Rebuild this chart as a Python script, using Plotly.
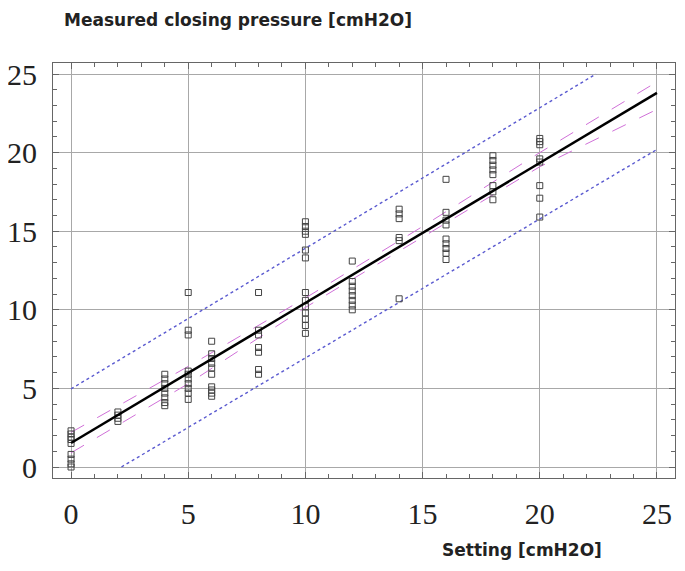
import plotly.graph_objects as go

# ---- data ----
settings = [0, 2, 4, 5, 6, 8, 10, 12, 14, 16, 18, 20]
measured = {
    0: [2.3, 2.1, 1.9, 1.75, 1.5, 0.8, 0.5, 0.2, 0.0],
    2: [3.5, 3.3, 3.1, 2.9],
    4: [5.9, 5.6, 5.3, 5.0, 4.7, 4.4, 4.1, 3.9],
    5: [11.1, 8.7, 8.4, 6.1, 5.9, 5.6, 5.3, 5.0, 4.7, 4.3],
    6: [8.0, 7.2, 6.9, 6.6, 6.3, 5.9, 5.1, 4.9, 4.7, 4.5],
    8: [11.1, 8.7, 8.4, 7.6, 7.3, 6.2, 5.9],
    10: [15.6, 15.3, 15.0, 14.8, 13.8, 13.3, 11.1, 10.6, 10.2, 9.8, 9.4, 9.0, 8.5],
    12: [13.1, 11.8, 11.5, 11.2, 10.9, 10.6, 10.3, 10.0],
    14: [16.4, 16.1, 15.8, 14.6, 14.4, 10.7],
    16: [18.3, 16.2, 15.7, 15.4, 14.5, 14.2, 13.9, 13.6, 13.2],
    18: [19.8, 19.5, 19.2, 18.9, 18.6, 17.9, 17.5, 17.0],
    20: [20.9, 20.7, 20.5, 19.6, 19.4, 17.9, 17.1, 15.9],
}

fit_x = [0, 25]
fit_y = [1.53, 23.8]

band_x = [0, 5, 10, 15, 20, 25]
conf_upper = [2.2, 6.4, 10.75, 15.3, 20.0, 24.5]
conf_lower = [0.9, 5.3, 10.15, 14.6, 19.1, 22.75]

pred_upper_x = [0, 22.4]
pred_upper_y = [4.97, 25.0]
pred_lower_x = [2.15, 25]
pred_lower_y = [0.0, 20.2]

x_ticks = [0, 5, 10, 15, 20, 25]
y_ticks = [0, 5, 10, 15, 20, 25]

y_title = "Measured closing pressure [cmH2O]"
x_title = "Setting [cmH2O]"

# ---- build ----
px_, py_ = [], []
for s in settings:
    for v in measured[s]:
        px_.append(s)
        py_.append(v)

fig = go.Figure()
fig.add_trace(go.Scatter(x=pred_upper_x, y=pred_upper_y, mode="lines",
                         line=dict(color="#5a5ad0", width=1.4, dash="dot"), hoverinfo="skip"))
fig.add_trace(go.Scatter(x=pred_lower_x, y=pred_lower_y, mode="lines",
                         line=dict(color="#5a5ad0", width=1.4, dash="dot"), hoverinfo="skip"))
fig.add_trace(go.Scatter(x=band_x, y=conf_upper, mode="lines",
                         line=dict(color="#d070d8", width=1, dash="longdash"), hoverinfo="skip"))
fig.add_trace(go.Scatter(x=band_x, y=conf_lower, mode="lines",
                         line=dict(color="#d070d8", width=1, dash="longdash"), hoverinfo="skip"))
fig.add_trace(go.Scatter(x=px_, y=py_, mode="markers",
                         marker=dict(symbol="square-open", size=6, color="#444444",
                                     line=dict(width=1, color="#444444"))))
fig.add_trace(go.Scatter(x=fit_x, y=fit_y, mode="lines",
                         line=dict(color="black", width=2.5)))

axis_common = dict(
    showgrid=True, gridcolor="#a8a8a8", gridwidth=1,
    zeroline=False, showline=True, linecolor="#666666", linewidth=1,
    mirror="ticks", ticks="inside", ticklen=6, tickcolor="#666666",
    minor=dict(dtick=1, ticks="inside", ticklen=4, tickcolor="#666666", showgrid=False),
    tickfont=dict(family="Liberation Serif", size=30, color="#222222"),
    automargin=False,
)

fig.update_xaxes(range=[-0.77, 25.77], tickvals=x_ticks, ticktext=[str(t) for t in x_ticks],
                 ticklabelstandoff=9, **axis_common)
fig.update_yaxes(range=[-0.7, 25.7], tickvals=y_ticks, ticktext=[str(t) for t in y_ticks],
                 ticklabelstandoff=9, **axis_common)

fig.add_annotation(text=y_title, xref="paper", yref="paper", x=0.0145, y=1.104,
                   xanchor="left", yanchor="middle", showarrow=False,
                   font=dict(family="DejaVu Sans", size=17, color="#222222", weight="bold"))
fig.add_annotation(text=x_title, xref="paper", yref="paper", x=0.622, y=-0.1735,
                   xanchor="left", yanchor="middle", showarrow=False,
                   font=dict(family="DejaVu Sans", size=17, color="#222222", weight="bold"))

# page body has an 8px default margin, so the figure is offset by 8px
fig.update_layout(
    width=677, height=555,
    margin=dict(l=45, r=10, t=55, b=85),
    paper_bgcolor="white", plot_bgcolor="white",
    showlegend=False,
)

fig.write_html("out.html")
